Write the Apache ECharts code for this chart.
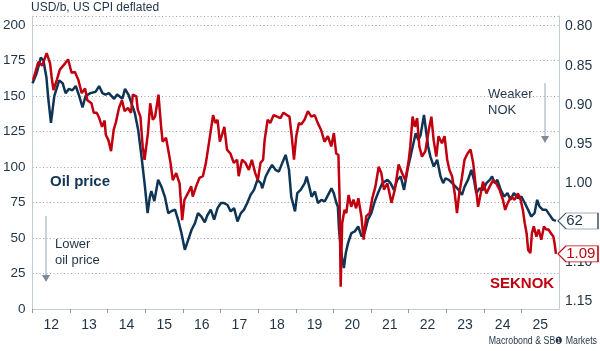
<!DOCTYPE html>
<html>
<head>
<meta charset="utf-8">
<script src="https://cdn.jsdelivr.net/npm/echarts@6/dist/echarts.min.js"></script>
<style>html,body{margin:0;padding:0;background:#fff}#c{width:600px;height:351px}</style>
</head>
<body>
<div id="c"></div>
<script>
// ---- Data ----
const oilYears = [2012.00,2012.11,2012.22,2012.29,2012.37,2012.42,2012.49,2012.58,2012.71,2012.80,2012.88,2012.97,
 2013.06,2013.15,2013.24,2013.33,2013.41,2013.54,2013.68,2013.77,2013.86,2013.94,
 2014.03,2014.17,2014.25,2014.39,2014.46,2014.55,2014.63,2014.72,2014.81,2014.90,2014.99,
 2015.06,2015.12,2015.16,2015.24,2015.34,2015.43,2015.52,2015.61,2015.70,2015.79,2015.87,2015.96,
 2016.05,2016.14,2016.23,2016.32,2016.40,2016.49,2016.58,2016.65,2016.74,2016.83,2016.92,
 2017.01,2017.09,2017.18,2017.27,2017.36,2017.45,2017.54,2017.62,2017.71,2017.80,2017.89,2017.98,
 2018.07,2018.11,2018.20,2018.29,2018.37,2018.46,2018.55,2018.64,2018.73,2018.82,2018.88,2018.98,
 2019.04,2019.13,2019.24,2019.29,2019.37,2019.42,2019.51,2019.59,2019.68,2019.77,2019.86,2019.95,
 2020.01,2020.08,2020.12,2020.15,2020.21,2020.28,2020.33,2020.39,2020.48,2020.57,2020.66,2020.75,2020.83,2020.92,
 2021.01,2021.10,2021.19,2021.30,2021.44,2021.52,2021.61,2021.70,2021.79,2021.88,2021.97,
 2022.05,2022.11,2022.19,2022.26,2022.32,2022.41,2022.45,2022.52,2022.58,2022.67,2022.76,2022.85,2022.92,2022.98,
 2023.07,2023.16,2023.25,2023.33,2023.42,2023.49,2023.58,2023.67,2023.74,2023.80,2023.89,2023.98,
 2024.07,2024.16,2024.22,2024.29,2024.36,2024.45,2024.54,2024.63,2024.71,2024.80,2024.91,
 2025.00,2025.09,2025.18,2025.26,2025.35,2025.42,2025.48,2025.57,2025.66,2025.75,2025.84,2025.92];
const oilValues = [159,166,177,175,163,148,131,150,161,159,152,155,
 154,157,150,142,150,152,153,157,152,151,
 152,148,151,148,155,151,145,138,126,107,86,
 67.5,79,83,76,91,86,79,67.5,69,70,63,53.5,
 41.7,48.7,55.8,60.5,67.5,65,61,66,70,63,71,
 74.6,74.6,73.4,68.7,71,61.6,67.5,69.8,74.6,80.4,83.9,90.9,
 88.6,85,93.3,98,101.5,98,96.8,102.7,108.5,98,79,68.7,
 81.6,83.9,88.6,93.3,85,79,82.7,74.6,76.9,75.7,80.4,85,
 81.6,74.6,72,55.8,39.4,28.8,39.4,46.4,53.5,54.6,58.1,51.1,53.5,62.8,
 67.5,75.7,81.8,88.6,90.9,88.6,83.9,90.9,93.3,83.9,98,
 107.3,114.4,123.8,119,122.6,136.7,128.5,114.4,107.3,100.3,105,93.3,88.6,92,
 90.9,88.6,86.2,83.9,80.4,86.2,90.9,98,90.9,81.6,85,83.9,
 88.6,90.9,93.3,88.6,90.9,83.9,79.2,81.6,76.9,81.6,78.1,
 79.2,74.6,69.8,65.1,67.5,76.9,72.2,69.8,69.8,66.3,62.8,62];

const seknokYears = [2012.03,2012.17,2012.27,2012.39,2012.48,2012.52,2012.57,2012.66,2012.74,2012.88,2012.96,
 2013.05,2013.14,2013.23,2013.32,2013.41,2013.47,2013.58,2013.64,2013.72,2013.78,2013.86,2013.93,2013.96,
 2014.03,2014.10,2014.17,2014.23,2014.31,2014.39,2014.46,2014.55,2014.63,2014.68,2014.77,2014.81,2014.88,2014.94,2014.99,
 2015.08,2015.14,2015.21,2015.27,2015.36,2015.43,2015.47,2015.56,2015.61,2015.68,2015.74,2015.83,2015.92,2015.99,
 2016.05,2016.14,2016.23,2016.27,2016.36,2016.45,2016.54,2016.62,2016.74,2016.81,2016.87,2016.93,2016.99,
 2017.05,2017.11,2017.18,2017.27,2017.36,2017.45,2017.49,2017.58,2017.67,2017.76,2017.84,2017.93,
 2018.00,2018.07,2018.14,2018.18,2018.26,2018.33,2018.42,2018.51,2018.60,2018.68,2018.77,2018.84,2018.90,2018.96,
 2019.02,2019.09,2019.15,2019.24,2019.33,2019.42,2019.51,2019.59,2019.68,2019.77,2019.86,2019.95,
 2020.02,2020.08,2020.14,2020.17,2020.20,2020.24,2020.30,2020.35,2020.41,2020.48,2020.54,2020.61,2020.67,2020.75,2020.81,2020.88,2020.97,
 2021.04,2021.12,2021.21,2021.28,2021.35,2021.44,2021.55,2021.64,2021.74,2021.83,2021.92,
 2022.01,2022.05,2022.11,2022.17,2022.23,2022.29,2022.36,2022.45,2022.54,2022.61,2022.67,2022.74,2022.80,2022.89,2022.96,
 2023.03,2023.09,2023.16,2023.23,2023.29,2023.35,2023.42,2023.49,2023.57,2023.65,2023.72,2023.78,2023.85,2023.92,2023.98,
 2024.07,2024.16,2024.25,2024.33,2024.42,2024.51,2024.57,2024.64,2024.73,2024.82,2024.91,2024.98,
 2025.04,2025.09,2025.14,2025.18,2025.24,2025.28,2025.33,2025.40,2025.46,2025.53,2025.60,2025.66,2025.72,2025.79,2025.85,2025.88,2025.92];
const seknokValues = [0.868,0.845,0.850,0.834,0.847,0.864,0.881,0.868,0.855,0.847,0.842,
 0.859,0.858,0.868,0.885,0.879,0.894,0.898,0.910,0.910,0.916,0.928,0.920,0.938,
 0.945,0.959,0.932,0.922,0.904,0.894,0.908,0.904,0.910,0.887,0.889,0.906,0.915,0.953,0.970,
 0.936,0.898,0.919,0.915,0.887,0.928,0.947,0.942,0.955,0.974,0.996,0.987,1.000,1.047,
 1.021,1.013,1.004,1.017,1.004,0.993,0.991,0.974,0.936,0.913,0.923,0.919,0.947,
 0.938,0.928,0.957,0.962,0.974,0.970,0.991,0.970,0.974,0.983,0.970,0.987,
 0.996,0.974,0.970,0.945,0.919,0.923,0.913,0.915,0.917,0.910,0.913,0.915,0.940,0.970,
 0.940,0.923,0.925,0.919,0.908,0.915,0.913,0.923,0.932,0.947,0.940,0.953,
 0.936,0.962,0.964,1.017,1.132,1.051,1.034,1.038,1.015,1.030,1.021,1.032,1.019,1.042,1.072,1.042,1.038,
 1.019,1.005,0.979,0.987,1.008,1.000,1.025,1.008,0.976,0.987,0.996,
 0.970,0.953,0.915,0.928,0.917,0.953,0.966,0.959,0.932,0.915,0.945,0.966,0.940,0.949,0.940,
 0.970,0.983,0.991,1.013,1.038,1.013,0.993,0.970,0.962,0.957,0.974,1.000,1.030,1.013,0.998,
 1.013,1.004,0.996,1.000,1.008,1.021,1.034,1.025,1.017,1.021,1.013,1.021,
 1.034,1.051,1.064,1.085,1.089,1.064,1.055,1.068,1.059,1.072,1.055,1.059,1.059,1.064,1.068,1.076,1.09];

const yearTickLabels = ['12','13','14','15','16','17','18','19','20','21','22','23','24','25'];
const oilAxis = {min: 0, max: 206.3, interval: 25};
const seknokAxis = {min: 0.80, max: 1.1604, interval: 0.05};

// ---- Styles ----
const NAVY = '#0f3556', RED = '#c0000f', TXT = '#1f3347', FONT = 'Liberation Sans, Arial, sans-serif';
const FRAME = '#c3ccd6';

const oilData = oilYears.map((y, i) => [y, oilValues[i]]);
const sekData = seknokYears.map((y, i) => [y, seknokValues[i]]);
const oilLast = oilData[oilData.length - 1];
const sekLast = sekData[sekData.length - 1];

const callout = 'path://M0,8L8,0L40,0L40,16L8,16Z';

const chart = echarts.init(document.getElementById('c'), null, {renderer: 'canvas'});
chart.setOption({
  animation: false,
  textStyle: {fontFamily: FONT},
  grid: [
    {left: 32, right: 41, top: 16, bottom: 42},
    {left: 32, right: 41, top: 26.5, bottom: 42}
  ],
  xAxis: [
    {type: 'value', gridIndex: 0, position: 'bottom', min: 2012, max: 2026, interval: 1,
     axisLine: {show: false}, splitLine: {show: false},
     axisTick: {show: true, length: 4, lineStyle: {color: '#8d99a6'}},
     axisLabel: {formatter: v => yearTickLabels[Math.round(v) - 2012] || '', showMaxLabel: false,
                 padding: [0, 0, 0, 37.7], margin: 9, fontSize: 14, color: TXT}},
    {type: 'value', gridIndex: 0, position: 'top', min: 2012, max: 2026,
     axisLine: {show: true, lineStyle: {color: FRAME, width: 1}}, axisTick: {show: false},
     axisLabel: {show: false}, splitLine: {show: false}},
    {type: 'value', gridIndex: 1, min: 2012, max: 2026, show: false}
  ],
  yAxis: [
    {type: 'value', gridIndex: 0, position: 'left', min: oilAxis.min, max: oilAxis.max, interval: oilAxis.interval,
     axisLine: {show: true, lineStyle: {color: FRAME, width: 1}}, axisTick: {show: false},
     splitLine: {show: true, lineStyle: {color: '#9aa1a9', type: [1, 2.5], width: 1}},
     axisLabel: {showMaxLabel: false, margin: 7, fontSize: 13.5, color: TXT}},
    {type: 'value', gridIndex: 0, position: 'right', min: oilAxis.min, max: oilAxis.max,
     axisLine: {show: true, lineStyle: {color: FRAME, width: 1}}, axisTick: {show: false},
     axisLabel: {show: false}, splitLine: {show: false}},
    {type: 'value', gridIndex: 1, position: 'right', inverse: true,
     min: seknokAxis.min, max: seknokAxis.max, interval: seknokAxis.interval,
     axisLine: {show: false}, axisTick: {show: false}, splitLine: {show: false},
     axisLabel: {formatter: v => v.toFixed(2), showMaxLabel: false, margin: 6, fontSize: 14, color: TXT}}
  ],
  series: [
    {type: 'line', name: 'Oil price', xAxisIndex: 0, yAxisIndex: 0, data: oilData,
     showSymbol: false, lineStyle: {color: NAVY, width: 2.5}, itemStyle: {color: NAVY}, z: 3,
     markPoint: {symbol: callout, symbolSize: [40, 16], symbolKeepAspect: false, symbolOffset: [22, 0],
       itemStyle: {color: '#fff', borderColor: '#4b5a69', borderWidth: 1},
       label: {show: true, position: [9, 8], align: 'left', verticalAlign: 'middle',
               fontSize: 15, color: TXT, formatter: () => String(Math.round(oilLast[1]))},
       data: [{coord: oilLast}]}},
    {type: 'line', name: 'SEKNOK', xAxisIndex: 2, yAxisIndex: 2, data: sekData,
     showSymbol: false, lineStyle: {color: RED, width: 2.5}, itemStyle: {color: RED}, z: 4,
     markPoint: {symbol: callout, symbolSize: [40, 16], symbolKeepAspect: false, symbolOffset: [22, 0],
       itemStyle: {color: '#fff', borderColor: RED, borderWidth: 1},
       label: {show: true, position: [9, 8], align: 'left', verticalAlign: 'middle',
               fontSize: 15, color: RED, formatter: () => sekLast[1].toFixed(2)},
       data: [{coord: sekLast}]}}
  ],
  graphic: [
    {type: 'text', x: 31, y: 8, style: {text: 'USD/b, US CPI deflated', fontSize: 12, fontFamily: FONT, fill: TXT, verticalAlign: 'middle'}},
    {type: 'text', x: 50, y: 182, style: {text: 'Oil price', fontSize: 15, fontWeight: 'bold', fontFamily: FONT, fill: NAVY, verticalAlign: 'middle'}},
    {type: 'text', x: 490, y: 284, style: {text: 'SEKNOK', fontSize: 15, fontWeight: 'bold', fontFamily: FONT, fill: RED, verticalAlign: 'middle'}},
    {type: 'text', left: 55, top: 236, style: {text: 'Lower\noil price', fontSize: 13, lineHeight: 16, fontFamily: FONT, fill: TXT}},
    {type: 'text', left: 488, top: 86, style: {text: 'Weaker\nNOK', fontSize: 13, lineHeight: 16, fontFamily: FONT, fill: TXT}},
    {type: 'line', shape: {x1: 46, y1: 216, x2: 46, y2: 276}, style: {stroke: '#9aa6b2', lineWidth: 1}},
    {type: 'polygon', shape: {points: [[42, 275], [50, 275], [46, 282]]}, style: {fill: '#7d8b99'}},
    {type: 'line', shape: {x1: 545, y1: 83, x2: 545, y2: 137}, style: {stroke: '#9aa6b2', lineWidth: 1}},
    {type: 'polygon', shape: {points: [[541, 136], [549, 136], [545, 143]]}, style: {fill: '#7d8b99'}},
    {type: 'text', x: 597, y: 341, scaleX: 0.8, scaleY: 0.95,
     style: {text: 'Macrobond & SB\u2776 Markets', fontSize: 11, fontFamily: FONT, fill: TXT, align: 'right', verticalAlign: 'middle'}}
  ]
});
</script>
</body>
</html>
